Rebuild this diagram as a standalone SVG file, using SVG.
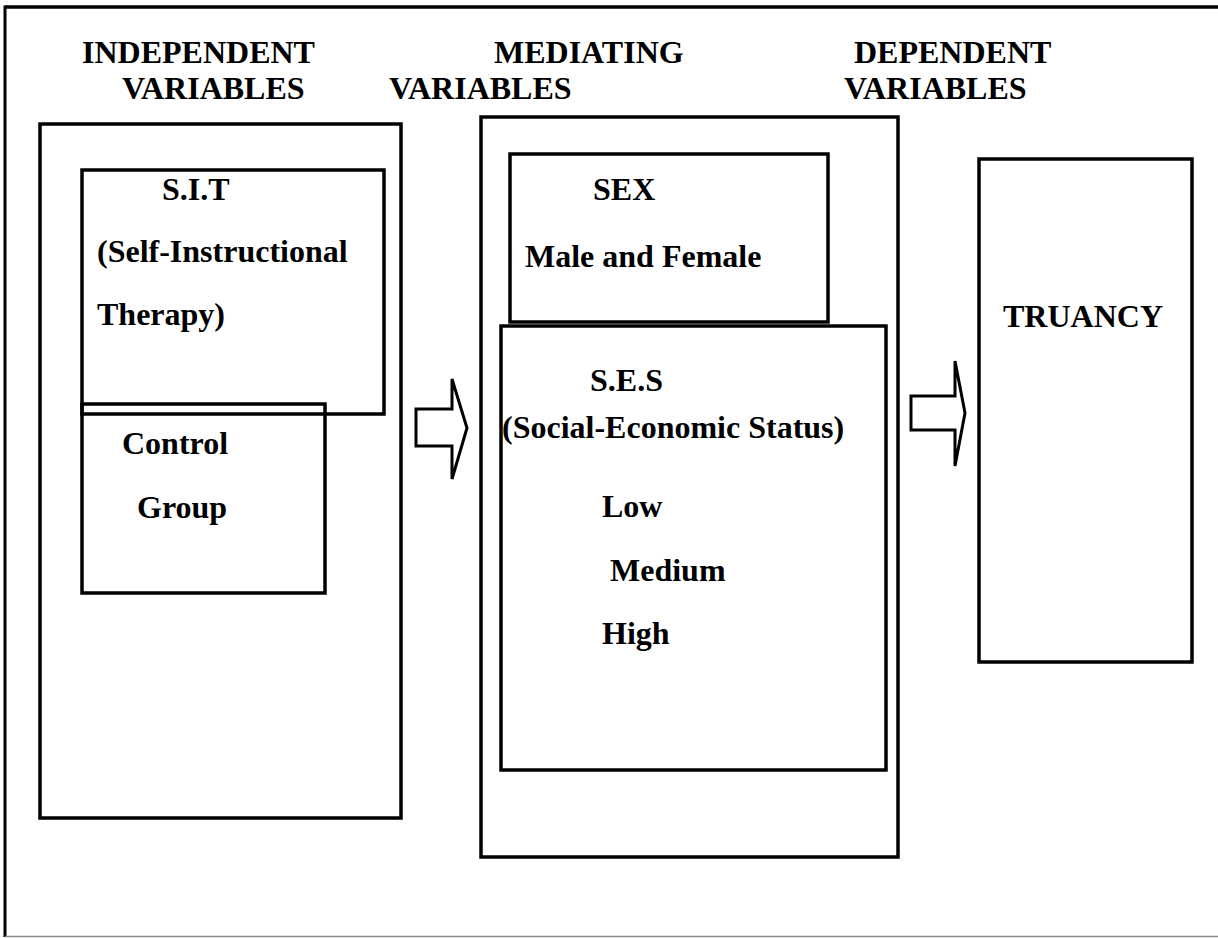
<svg xmlns="http://www.w3.org/2000/svg" width="1218" height="938" viewBox="0 0 1218 938">
<style>
  .t { font-family: "Liberation Serif", "Times New Roman", serif; font-weight: bold; font-size: 32px; fill: #000; }
  .box { fill: none; stroke: #000; stroke-width: 3.5; }
  .arrow { fill: #fff; stroke: #000; stroke-width: 3; stroke-linejoin: miter; }
</style>
<rect width="1218" height="938" fill="#fff"/>
<g id="frame">
  <line x1="5" y1="7" x2="1218" y2="7" stroke="#000" stroke-width="3.5"/>
  <line x1="5" y1="5.5" x2="5" y2="937" stroke="#000" stroke-width="3"/>
  <line x1="5" y1="936.5" x2="1218" y2="936.5" stroke="#888" stroke-width="1.5"/>
</g>
<g id="headers">
  <text class="t" x="82" y="63">INDEPENDENT</text>
  <text class="t" x="122" y="99">VARIABLES</text>
  <text class="t" x="494" y="63">MEDIATING</text>
  <text class="t" x="389" y="99">VARIABLES</text>
  <text class="t" x="854" y="63">DEPENDENT</text>
  <text class="t" x="844" y="99">VARIABLES</text>
</g>
<g id="independent">
  <rect class="box" x="40" y="124" width="361" height="694"/>
</g>
<g id="sit">
  <rect class="box" x="82" y="170" width="302" height="244"/>
  <text class="t" x="162" y="200">S.I.T</text>
  <text class="t" x="97" y="262">(Self-Instructional</text>
  <text class="t" x="97" y="325">Therapy)</text>
</g>
<g id="control">
  <rect class="box" x="82" y="404" width="243" height="189"/>
  <text class="t" x="122" y="454">Control</text>
  <text class="t" x="137" y="518">Group</text>
</g>
<g id="mediating">
  <rect class="box" x="481" y="117" width="417" height="740"/>
</g>
<g id="sex">
  <rect class="box" x="510" y="154" width="318" height="168"/>
  <text class="t" x="593" y="200">SEX</text>
  <text class="t" x="525" y="267">Male and Female</text>
</g>
<g id="ses">
  <rect class="box" x="501" y="326" width="385" height="444"/>
  <text class="t" x="590" y="391">S.E.S</text>
  <text class="t" x="502" y="438">(Social-Economic Status)</text>
  <text class="t" x="602" y="517">Low</text>
  <text class="t" x="610" y="581">Medium</text>
  <text class="t" x="602" y="644">High</text>
</g>
<g id="truancy">
  <rect class="box" x="979" y="159" width="213" height="503"/>
  <text class="t" x="1003" y="327">TRUANCY</text>
</g>
<g id="connectors">
  <polygon class="arrow" points="416,409 452,409 452,379 467,428 452,479 452,446 416,446"/>
  <polygon class="arrow" points="911,396 955,396 955,361 965,413 955,466 955,430 911,430"/>
</g>
</svg>
